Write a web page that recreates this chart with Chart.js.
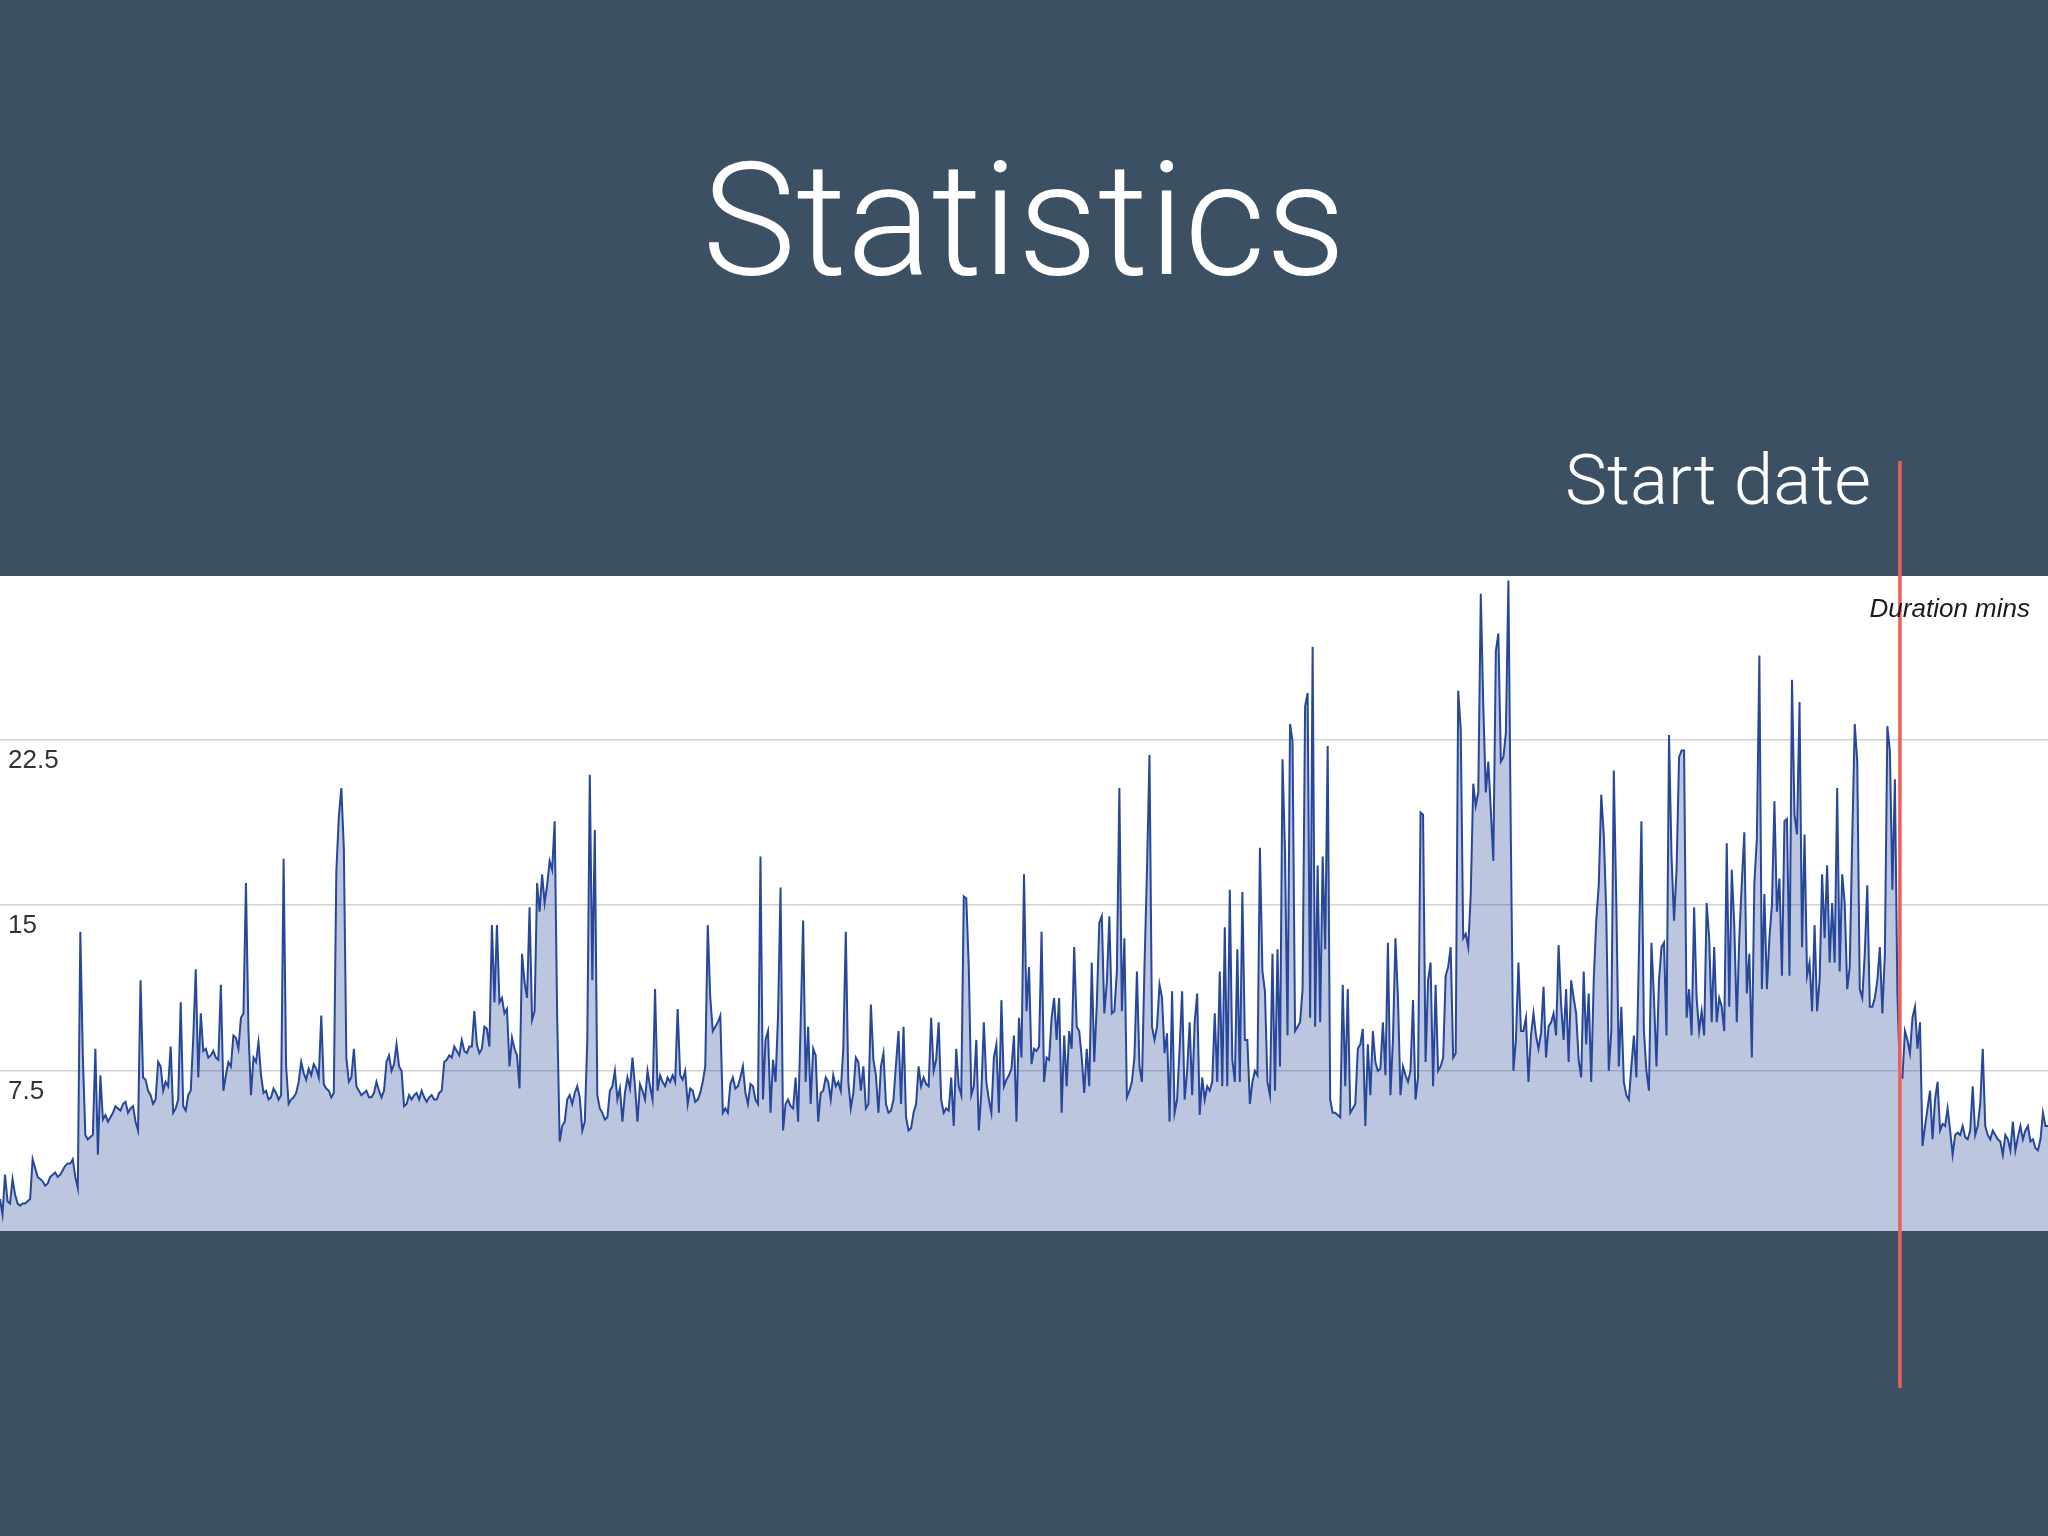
<!DOCTYPE html>
<html>
<head>
<meta charset="utf-8">
<script src="https://cdn.jsdelivr.net/npm/chart.js@4"></script>
<style>
  html, body { margin: 0; padding: 0; width: 2048px; height: 1536px; overflow: hidden; background: #3c5064; }
  #wrap { position: relative; width: 2048px; height: 1536px; }
  #c { position: absolute; left: 0; top: 0; }
  .txt { position: absolute; white-space: nowrap; line-height: 1; margin: 0; }
  #title { left: 0; width: 2048px; text-align: center; top: 141px; font-size: 158px; color: #fff;
           font-family: Roboto, "Liberation Sans", sans-serif; font-weight: 300; }
  #start { left: 1565px; top: 444px; font-size: 71px; color: #fff;
           font-family: Roboto, "Liberation Sans", sans-serif; font-weight: 300; }
  #series { right: 18px; top: 595px; font-size: 26px; color: #1a1a1a; font-style: italic;
            font-family: "Liberation Sans", Arial, sans-serif; }
</style>
</head>
<body>
<div id="wrap">
  <canvas id="c" width="2048" height="1536"></canvas>
  <h1 class="txt" id="title">Statistics</h1>
  <div class="txt" id="start">Start date</div>
  <div class="txt" id="series">Duration mins</div>
</div>
<script>
// ---- data (one value per ~2.5 px of the original) ----
const durationMins = [
  // segment 1
  1.7,1.0,2.8,1.6,1.5,2.6,1.9,1.5,1.4,1.5, 1.5,1.6,1.7,3.5,3.1,2.7,2.6,2.5,2.3,2.4,
  2.7,2.8,2.9,2.7,2.8,3.0,3.2,3.3,3.3,3.5, 2.7,2.2,13.8,8.2,4.6,4.4,4.5,4.6,8.5,3.7,
  7.3,5.3,5.5,5.2,5.4,5.6,5.9,5.8,5.7,6.0, 6.1,5.6,5.8,5.9,5.2,4.8,11.6,7.2,7.1,6.6,
  6.4,6.0,6.2,7.9,7.7,6.6,7.0,6.8,8.6,5.6, 5.8,6.2,10.6,5.9,5.7,6.4,6.6,9.0,12.1,7.2,
  10.1,8.4,8.5,8.1,8.2,8.4,8.1,8.0,11.4,6.6, 7.3,7.9,7.7,9.1,9.0,8.5,9.9,10.1,16.0,9.3,
  6.4,8.1,
  // segment 2
  7.9,8.8,7.3,6.5,6.6,6.2,6.3,6.7,6.5,6.2, 6.4,17.1,7.7,6.0,6.2,6.3,6.5,7.0,7.9,7.4,
  7.1,7.6,7.3,7.8,7.6,7.2,10.0,6.9,6.7,6.6, 6.3,6.5,16.5,19.0,20.3,17.6,8.1,7.0,7.2,8.5,
  6.8,6.6,6.4,6.5,6.6,6.3,6.3,6.5,7.0,6.6, 6.3,6.6,7.9,8.2,7.5,7.8,8.7,7.7,7.5,5.9,
  6.0,6.4,6.2,6.4,6.5,6.2,6.6,6.3,6.1,6.3, 6.4,6.2,6.2,6.5,6.6,7.9,8.0,8.2,8.1,8.6,
  8.4,8.2,8.9,8.4,8.3,8.6,8.6,10.2,8.7,8.3, 8.5,9.5,9.4,8.6,14.1,10.6,14.1,10.6,10.8,10.1,
  10.3,7.7,
  // segment 3
  9.0,8.5,8.2,6.7,12.8,11.5,10.8,14.9,9.8,10.2, 16.0,14.7,16.4,15.1,15.9,17.0,16.6,18.8,10.0,4.3,
  5.0,5.2,6.2,6.4,6.0,6.5,6.8,6.3,4.8,5.2, 8.9,20.9,11.6,18.4,6.4,5.8,5.6,5.3,5.4,6.6,
  6.8,7.5,6.2,6.7,5.2,6.5,7.2,6.7,8.1,6.8, 5.2,6.9,6.6,6.2,7.5,6.8,6.2,11.2,6.6,7.3,
  7.0,6.8,7.2,7.0,7.3,7.0,10.3,7.3,7.1,7.5, 6.0,6.7,6.6,6.1,6.2,6.5,7.0,7.7,14.1,10.8,
  9.3,9.5,9.7,10.0,5.6,5.8,5.6,6.9,7.2,6.7, 6.8,7.2,7.7,6.5,6.0,6.9,6.8,6.2,6.0,17.2,
  6.2,8.9,
  // segment 4
  9.3,5.6,8.0,7.0,10.0,15.8,4.8,6.0,6.2,5.9, 5.8,7.2,5.2,9.6,14.3,7.0,9.5,6.0,8.5,8.2,
  5.2,6.5,6.6,7.2,7.0,6.2,7.3,6.8,7.0,6.6, 8.5,13.8,7.0,5.8,6.5,8.1,7.9,6.6,7.7,5.8,
  6.0,10.5,8.0,7.3,5.6,7.7,8.3,6.0,5.6,5.7, 6.2,7.8,9.3,6.0,9.5,5.4,4.8,4.9,5.6,6.0,
  7.7,6.8,7.2,6.9,6.8,9.9,7.5,8.0,9.7,6.2, 5.6,5.8,5.7,7.2,5.0,8.5,6.8,6.4,15.4,15.3,
  12.2,6.4,6.8,8.9,4.8,6.5,9.7,7.0,6.2,5.6, 8.1,8.7,5.6,10.7,6.8,7.1,7.3,7.6,9.1,5.2,
  9.9,8.1,
  // segment 5
  16.4,10.2,12.2,7.8,8.5,8.4,8.6,13.8,7.0,8.1, 8.0,9.9,10.8,8.9,10.8,5.6,9.1,6.8,9.3,8.5,
  13.1,9.5,9.3,8.1,6.5,8.5,6.8,12.4,7.9,10.5, 14.2,14.5,10.1,11.5,14.5,10.1,10.2,12.0,20.3,10.2,
  13.5,6.3,6.6,7.0,8.1,12.0,7.7,7.0,12.2,16.6, 21.8,9.5,8.9,9.5,11.4,10.8,8.3,9.2,5.2,11.1,
  5.6,6.2,8.5,11.1,6.2,7.5,9.7,6.4,9.7,11.0, 5.5,7.2,6.2,6.8,6.6,7.0,10.1,7.0,12.0,6.8,
  14.0,6.8,15.7,8.0,7.0,13.0,7.0,15.6,8.9,8.9, 6.0,7.0,7.5,7.3,17.6,12.0,11.1,7.0,6.4,12.8,
  6.6,13.0,
  // segment 6
  7.7,21.6,17.4,9.1,23.2,22.4,9.3,9.5,9.7,11.2, 24.0,24.6,9.9,26.7,9.5,16.8,9.7,17.2,13.0,22.2,
  6.2,5.6,5.6,5.5,5.4,11.4,6.8,11.2,5.6,5.8, 6.0,8.5,8.7,9.4,5.0,8.7,6.4,9.3,7.9,7.5,
  7.6,9.7,7.3,13.3,6.4,8.9,13.5,10.8,6.4,7.7, 7.3,7.0,7.5,10.7,6.2,7.2,19.2,19.1,7.9,11.6,
  12.4,6.8,11.4,7.5,7.7,8.1,11.8,12.2,13.1,8.1, 8.3,24.7,23.0,13.5,13.7,13.1,15.5,20.5,19.5,20.1,
  29.1,24.0,20.1,21.5,19.3,17.0,26.5,27.3,21.5,21.7, 22.8,29.7,17.8,7.5,8.9,12.4,9.3,9.3,9.9,7.0,
  9.1,10.1,
  // segment 7
  9.1,8.5,9.2,11.3,8.1,9.5,9.7,10.1,9.1,13.2, 10.5,8.9,11.2,7.9,11.6,10.8,10.1,8.0,7.2,12.0,
  8.7,11.0,7.0,11.6,14.3,15.9,20.0,18.2,14.7,7.5, 9.3,21.1,15.1,7.7,10.4,7.0,6.4,6.2,7.7,9.1,
  7.2,12.8,18.8,9.3,7.5,6.6,13.3,10.8,7.7,11.6, 13.1,13.3,9.1,22.7,17.2,14.3,16.6,21.7,22.0,22.0,
  9.9,11.2,9.1,14.9,10.8,9.3,10.2,9.1,15.1,13.5, 9.7,13.1,9.7,10.8,10.4,9.3,17.8,10.4,16.6,14.1,
  9.7,13.5,16.0,18.3,11.0,12.8,8.1,16.0,18.0,26.3, 11.2,15.5,11.2,13.5,15.0,19.7,14.7,16.2,11.8,18.8,
  18.9,11.8,
  // segment 8
  25.2,19.1,18.2,24.2,13.1,18.2,11.8,12.4,10.2,14.1, 10.2,11.6,16.4,13.5,16.8,12.4,15.1,12.4,20.3,12.0,
  16.4,15.1,11.2,12.2,18.0,23.2,21.5,11.2,10.8,12.8, 15.9,10.4,10.4,10.8,11.6,13.1,10.1,12.8,23.1,22.0,
  15.7,20.7,11.0,7.3,7.2,9.3,8.9,8.3,9.9,10.4, 8.5,9.7,4.1,5.0,5.8,6.6,4.4,6.2,7.0,4.8,
  5.1,5.0,5.8,4.8,3.7,4.6,4.7,4.6,5.0,4.5, 4.4,4.8,6.8,4.6,5.0,6.0,8.5,5.0,4.6,4.4,
  4.8,4.6,4.4,4.3,3.7,4.6,4.4,3.9,5.2,3.9, 4.5,5.0,4.4,4.8,5.0,4.3,4.4,4.0,3.9,4.4,
  5.6,5.0,5.0
];
const dayIndex = durationMins.map((_, i) => i);
const yTickValues = [7.5, 15, 22.5];
const yRange = [0.25, 29.9];
const startDateIndex = 757;
const seriesName = 'Duration mins';

// ---- plugins ----
const panelPlugin = {
  id: 'panel',
  beforeDraw(chart) {
    const { ctx, chartArea, width } = chart;
    ctx.save();
    ctx.fillStyle = '#ffffff';
    ctx.fillRect(0, chartArea.top, width, chartArea.bottom - chartArea.top);
    ctx.restore();
  }
};
const markerPlugin = {
  id: 'startMarker',
  afterDraw(chart) {
    const { ctx, chartArea, scales } = chart;
    const x = scales.x.getPixelForValue(startDateIndex);
    ctx.save();
    ctx.strokeStyle = '#ef5f5a';
    ctx.lineWidth = 3.5;
    ctx.beginPath();
    ctx.moveTo(x, chartArea.top - 115);
    ctx.lineTo(x, chartArea.bottom + 157);
    ctx.stroke();
    ctx.restore();
  }
};

new Chart(document.getElementById('c'), {
  type: 'line',
  data: {
    labels: dayIndex,
    datasets: [{
      label: seriesName,
      data: durationMins,
      borderColor: '#27479a',
      borderWidth: 2,
      backgroundColor: 'rgba(35,65,150,0.3)',
      fill: 'start',
      pointRadius: 0,
      tension: 0
    }]
  },
  options: {
    responsive: false,
    maintainAspectRatio: false,
    animation: false,
    layout: { padding: { top: 576, bottom: 305, left: 0, right: 0 } },
    plugins: { legend: { display: false }, tooltip: { enabled: false }, title: { display: false } },
    scales: {
      x: { display: false, offset: false },
      y: {
        min: yRange[0], max: yRange[1],
        position: 'left',
        border: { display: false },
        grid: { color: '#d2d2d2', lineWidth: 1.5, drawTicks: false },
        ticks: { mirror: true, padding: 8, labelOffset: 21, color: '#333333',
                 font: { family: 'Liberation Sans', size: 26 } },
        afterBuildTicks: (s) => { s.ticks = yTickValues.map(v => ({ value: v })); },
        afterFit: (s) => { s.width = 0; }
      }
    }
  },
  plugins: [panelPlugin, markerPlugin]
});
</script>
</body>
</html>
